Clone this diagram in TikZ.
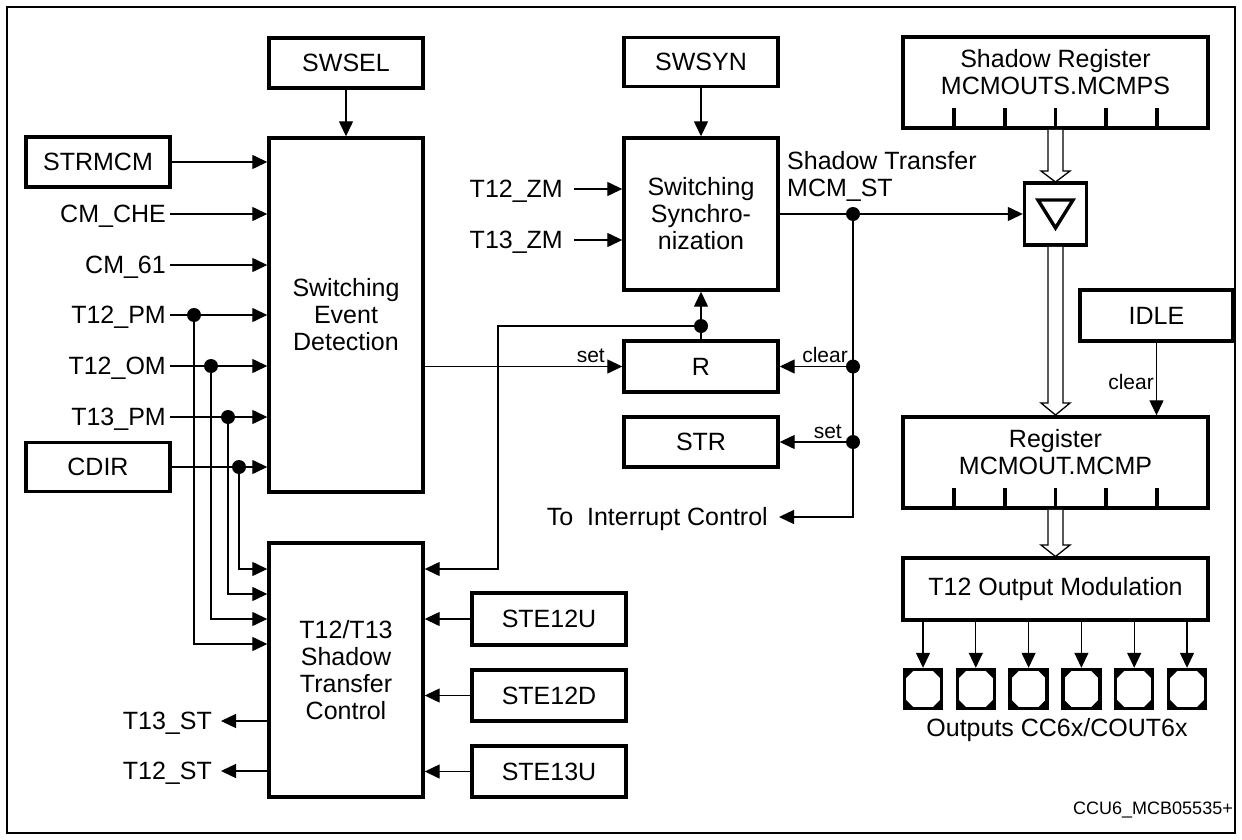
\documentclass[tikz,border=0pt]{standalone}
\usepackage{fontspec}
\setmainfont{Liberation Sans}
\usetikzlibrary{arrows.meta,calc}
\newcommand\fbig{\fontsize{25}{27}\selectfont}
\newcommand\fsml{\fontsize{21}{24}\selectfont}
\newcommand\fftr{\fontsize{18}{20}\selectfont}
\begin{document}
\begin{tikzpicture}[x=1pt,y=-1pt,
  box/.style={draw, line width=3.4pt, inner sep=0pt, align=center, font=\fbig},
  lbl/.style={inner xsep=4pt, inner ysep=0pt, font=\fbig, text height=17.9pt, text depth=0pt},
  sml/.style={inner sep=0pt, font=\fsml},
  conn/.style={line width=1.3pt},
  arr/.style={conn, -{Triangle[length=15pt,width=14pt]}},
  hol/.style={line width=1.3pt, fill=white, line join=miter},
  dot/.style={circle, fill, inner sep=0pt, minimum size=14pt},
  pad/.style={draw, line width=3.4pt, inner sep=0pt, minimum width=37pt, minimum height=39pt,
    path picture={
      \fill (path picture bounding box.north west) -- ++(10pt,0pt) -- ++(-10pt,-10pt) -- cycle;
      \fill (path picture bounding box.north east) -- ++(-10pt,0pt) -- ++(10pt,-10pt) -- cycle;
      \fill (path picture bounding box.south west) -- ++(10pt,0pt) -- ++(-10pt,10pt) -- cycle;
      \fill (path picture bounding box.south east) -- ++(-10pt,0pt) -- ++(10pt,10pt) -- cycle;
    }},
]
\useasboundingbox (0,0) rectangle (1242,840);
\draw[line width=1.6pt] (7,7) rectangle (1235,833);

% ---- boxes ----
\node[box, minimum width=154pt, minimum height=50pt] (swsel) at (346,63) {SWSEL};
\node[box, minimum width=154pt, minimum height=354pt] (sed) at (346,315) {Switching\\Event\\Detection};
\node[box, minimum width=144pt, minimum height=50pt] (strmcm) at (98,162) {STRMCM};
\node[box, minimum width=144pt, minimum height=49pt] (cdir) at (98,467) {CDIR};
\node[box, minimum width=154pt, minimum height=49pt] (swsyn) at (701,62) {SWSYN};
\node[box, minimum width=154pt, minimum height=152pt] (sync) at (701,214) {Switching\\Synchro-\\nization};
\node[box, minimum width=154pt, minimum height=51pt] (rr) at (701,366.5) {R};
\node[box, minimum width=154pt, minimum height=50pt] (str) at (701,442) {STR};
\node[box, minimum width=305pt, minimum height=91pt] (shreg) at (1055.5,82.5) {};
\node[font=\fbig, align=center, inner sep=0pt] (shregtxt) at (1055.5,72) {Shadow Register\\MCMOUTS.MCMPS};
\node[box, minimum size=62pt] (trib) at (1055.5,214) {};
\node[box, minimum width=153pt, minimum height=51pt] (idle) at (1156.5,315.5) {IDLE};
\node[box, minimum width=305pt, minimum height=91pt] (reg) at (1055.5,462.5) {};
\node[font=\fbig, align=center, inner sep=0pt] (regtxt) at (1055.5,452) {Register\\MCMOUT.MCMP};
\node[box, minimum width=305pt, minimum height=62pt] (outmod) at (1055.5,589) {T12 Output Modulation};
\node[box, minimum width=154pt, minimum height=254pt] (stc) at (346,670) {T12/T13\\Shadow\\Transfer\\Control};
\node[box, minimum width=154pt, minimum height=52pt] (ste12u) at (549,619) {STE12U};
\node[box, minimum width=154pt, minimum height=51pt] (ste12d) at (549,695.5) {STE12D};
\node[box, minimum width=154pt, minimum height=51pt] (ste13u) at (549,771.5) {STE13U};

% register ticks
\foreach \tx in {954,1005,1055.5,1106,1157} {
  \draw[line width=3.4pt] (\tx,108) -- (\tx,128);
  \draw[line width=3.4pt] (\tx,488) -- (\tx,508);
}
% triangle symbol
\draw[line width=3.4pt, line join=miter] (1038,200) -- (1073,200) -- (1055.5,228) -- cycle;

% hollow bus arrows
\draw[hol] (1048,129.8) -- (1048,171) -- (1041,171) -- (1055.5,182) -- (1070,171) -- (1063,171) -- (1063,129.8);
\draw[hol] (1048,246.8) -- (1048,403) -- (1041,403) -- (1055.5,415) -- (1070,403) -- (1063,403) -- (1063,246.8);
\draw[hol] (1048,509.8) -- (1048,545) -- (1041,545) -- (1055.5,556.5) -- (1070,545) -- (1063,545) -- (1063,509.8);

% ---- left inputs ----
\node[lbl, anchor=east] (cmche) at (170,214) {CM\_CHE};
\node[lbl, anchor=east] (cm61) at (170,265) {CM\_61};
\node[lbl, anchor=east] (t12pm) at (170,315) {T12\_PM};
\node[lbl, anchor=east] (t12omlbl) at (170,366) {T12\_OM};
\node[lbl, anchor=east] (t13pm) at (170,417) {T13\_PM};

\draw[arr] (swsel.south) -- (sed.north);
\draw[arr] (strmcm.east) -- (strmcm.east -| sed.west);
\draw[arr] (cmche.east) -- (cmche.east -| sed.west);
\draw[arr] (cm61.east) -- (cm61.east -| sed.west);
\draw[arr] (t12pm.east) -- (t12pm.east -| sed.west);
\draw[arr] (t12omlbl.east) -- (t12omlbl.east -| sed.west);
\draw[arr] (t13pm.east) -- (t13pm.east -| sed.west);
\draw[arr] (cdir.east) -- (cdir.east -| sed.west);

\node[dot] (d1) at (194,315) {};
\node[dot] (d2) at (211,366) {};
\node[dot] (d3) at (228,417) {};
\node[dot] (d4) at (239,467) {};
\draw[arr] (d4.center) -- (239,569) -- (stc.west |- 0,569);
\draw[arr] (d3.center) -- (228,594) -- (stc.west |- 0,594);
\draw[arr] (d2.center) -- (211,619) -- (stc.west |- 0,619);
\draw[arr] (d1.center) -- (194,644) -- (stc.west |- 0,644);

% outputs of shadow transfer control
\node[lbl, anchor=east, inner xsep=9pt] (t13st) at (221,721) {T13\_ST};
\node[lbl, anchor=east, inner xsep=9pt] (t12st) at (221,771) {T12\_ST};
\draw[arr] (stc.west |- t13st.east) -- (t13st.east);
\draw[arr] (stc.west |- t12st.east) -- (t12st.east);
\draw[arr] (ste12u.west) -- (ste12u.west -| stc.east);
\draw[arr] (ste12d.west) -- (ste12d.west -| stc.east);
\draw[arr] (ste13u.west) -- (ste13u.west -| stc.east);

% ---- synchronization ----
\node[lbl, anchor=east, inner xsep=11pt] (t12zm) at (574,189) {T12\_ZM};
\node[lbl, anchor=east, inner xsep=11pt] (t13zm) at (574,240) {T13\_ZM};
\draw[arr] (t12zm.east) -- (t12zm.east -| sync.west);
\draw[arr] (t13zm.east) -- (t13zm.east -| sync.west);
\draw[arr] (swsyn.south) -- (sync.north);

% set R
\draw[arr] (sed.east |- rr.west) -- (rr.west);
\node[sml, anchor=base east] (set1) at (605,362) {set};

% feedback from R
\node[dot] (dfb) at (701,326) {};
\draw[arr] (rr.north) -- (sync.south);
\draw[arr] (dfb.center) -- (498,326) -- (498,569) -- (stc.east |- 0,569);

% shadow transfer
\draw[arr] (sync.east) -- (trib.west);
\node[font=\fbig, align=left, anchor=west, inner sep=0pt] (stlbl) at (787,176) {Shadow Transfer\\MCM\_ST};
\node[dot] (dst) at (853,214) {};
\node[dot] (dclr) at (853,366.5) {};
\node[dot] (dset) at (853,442) {};
\node[lbl, anchor=east, inner xsep=11pt] (toint) at (779,517) {To\ \ Interrupt Control};
\draw[arr] (dst.center) -- (dst.center |- toint.east) -- (toint.east);
\draw[arr] (dclr.center) -- (rr.east);
\draw[arr] (dset.center) -- (str.east);
\node[sml, anchor=base east] (clr1) at (848,362) {clear};
\node[sml, anchor=base east] (set2) at (842,438) {set};

% idle
\draw[arr] (idle.south) -- (idle.south |- reg.north);
\node[sml, anchor=base east] (clr2) at (1154,389) {clear};

% pads
\foreach \i in {0,...,5} {
  \pgfmathsetmacro\px{923+52.8*\i}
  \node[pad] (p\i) at (\px,689) {};
  \draw[arr] (p\i.north |- outmod.south) -- (p\i.north);
}
\node[font=\fbig, inner sep=0pt] (outl) at (1057,730) {Outputs CC6x/COUT6x};
\node[font=\fftr, anchor=east, inner sep=0pt] (ftr) at (1233,810) {CCU6\_MCB05535+};
\end{tikzpicture}
\end{document}
